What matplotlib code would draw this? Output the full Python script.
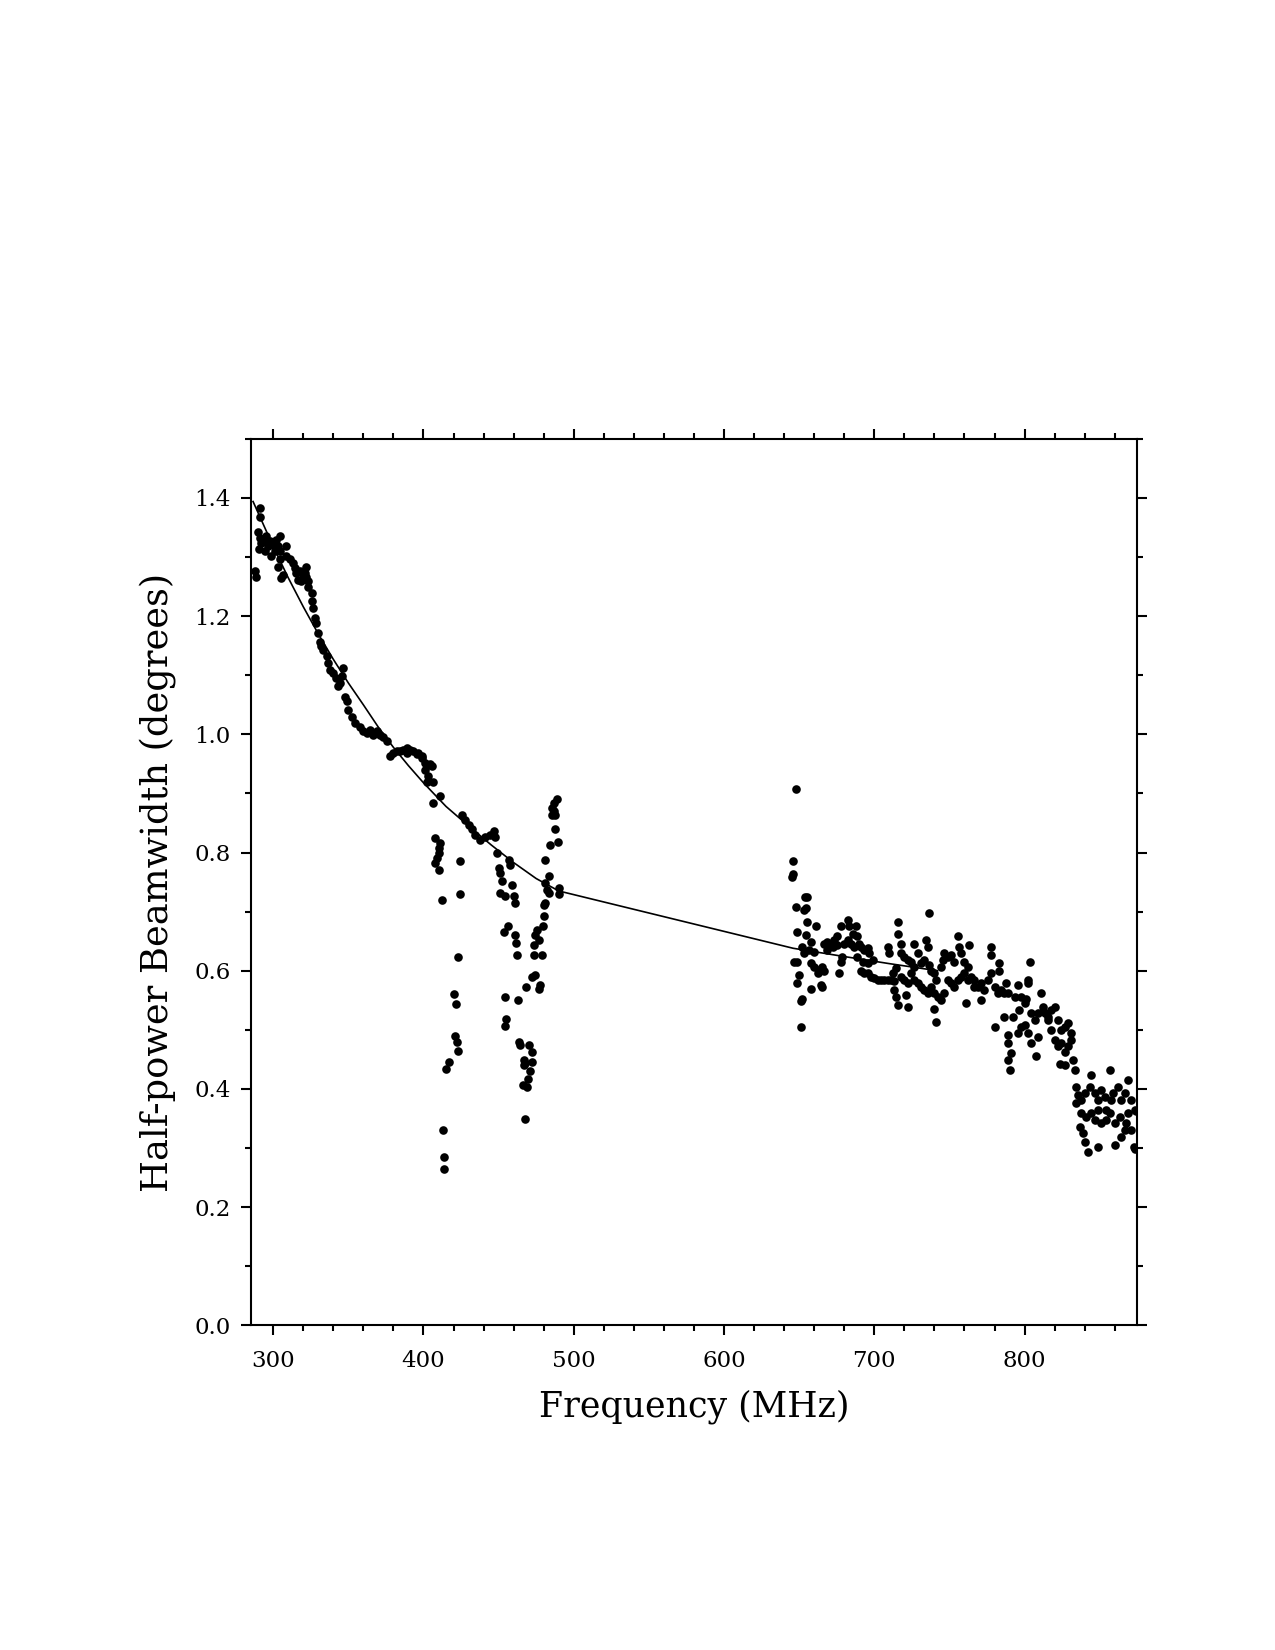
import matplotlib
matplotlib.use("Agg")
import matplotlib.pyplot as plt
from matplotlib.ticker import MultipleLocator

# measured beamwidth points (MHz, degrees)
freq_low = [287.7, 288.4, 291.0, 291.5, 289.9, 291.0, 292.1, 290.6, 293.3, 295.5,
            297.7, 296.6, 294.4, 299.9, 302.1, 304.4, 298.8, 301.0, 303.3, 304.4,
            308.8, 304.4, 303.3, 305.5, 306.6, 308.8, 311.0, 313.3, 314.4, 315.5,
            316.6, 319.9, 317.7, 322.1, 321.0, 318.8, 323.3, 322.1, 323.3, 325.5,
            325.5, 326.6, 327.7, 328.8, 329.9, 331.0, 332.1, 333.2, 335.5, 336.6,
            337.7, 339.9, 342.1, 344.4, 346.6, 345.5, 343.2, 347.7, 348.8, 349.9,
            352.1, 354.4, 357.7, 359.9, 362.1, 364.4, 366.6, 368.8, 371.0, 373.2,
            375.5, 377.7, 379.9, 382.1, 384.4, 386.6, 388.8, 391.0, 393.3, 396.6,
            398.8, 401.0, 403.2, 405.4, 388.8, 395.5, 398.8, 401.1, 404.4, 403.3,
            406.6, 402.2, 406.6, 411.1]
bw_low = [1.276, 1.267, 1.383, 1.368, 1.343, 1.332, 1.324, 1.313, 1.329, 1.335,
          1.327, 1.318, 1.310, 1.321, 1.329, 1.335, 1.301, 1.310, 1.318, 1.310,
          1.318, 1.296, 1.284, 1.265, 1.270, 1.301, 1.296, 1.290, 1.281, 1.273,
          1.262, 1.267, 1.276, 1.284, 1.273, 1.259, 1.259, 1.267, 1.250, 1.239,
          1.225, 1.214, 1.197, 1.188, 1.171, 1.157, 1.149, 1.143, 1.132, 1.121,
          1.109, 1.104, 1.095, 1.087, 1.112, 1.098, 1.081, 1.064, 1.056, 1.042,
          1.030, 1.019, 1.013, 1.005, 1.002, 1.008, 0.999, 1.005, 0.999, 0.996,
          0.988, 0.963, 0.968, 0.971, 0.971, 0.974, 0.977, 0.974, 0.971, 0.968,
          0.963, 0.951, 0.948, 0.946, 0.968, 0.966, 0.960, 0.940, 0.949, 0.929,
          0.920, 0.920, 0.884, 0.895]

freq_mid = [407.7, 411.1, 410.0, 410.0, 409.3, 407.7, 410.0, 412.2, 424.4, 424.0,
            423.3, 420.6, 421.7, 421.1, 422.2, 422.9, 417.3, 414.8, 412.8, 413.9,
            413.5, 425.5, 427.7, 430.0, 432.2, 434.4, 437.7, 441.1, 444.4, 447.7,
            446.6, 448.8, 456.6, 457.7, 450.0, 451.1, 452.2, 458.8, 451.1, 454.4,
            460.0, 461.1, 456.2, 453.3, 461.1, 461.7, 462.2, 454.4, 462.6, 455.1,
            454.0, 463.3, 464.0, 470.0, 472.2, 466.6, 467.7, 472.2, 466.6, 471.1,
            469.5, 466.2, 468.8, 467.7, 488.8, 486.6, 485.5, 486.6, 485.5, 487.7,
            487.7, 484.4, 489.3, 481.1, 483.3, 481.1, 482.2, 483.3, 490.0, 490.0,
            481.1, 480.0, 480.4, 479.5, 475.5, 474.4, 476.6, 473.3, 478.8, 473.3,
            474.4, 472.2, 468.4, 477.7, 476.6]
bw_mid = [0.824, 0.816, 0.807, 0.799, 0.790, 0.782, 0.771, 0.720, 0.785, 0.729,
          0.624, 0.561, 0.544, 0.490, 0.480, 0.464, 0.445, 0.433, 0.330, 0.284,
          0.264, 0.864, 0.855, 0.847, 0.839, 0.830, 0.822, 0.826, 0.830, 0.827,
          0.836, 0.799, 0.788, 0.779, 0.774, 0.765, 0.751, 0.745, 0.731, 0.726,
          0.726, 0.714, 0.675, 0.665, 0.661, 0.647, 0.627, 0.555, 0.550, 0.519,
          0.507, 0.480, 0.475, 0.475, 0.462, 0.449, 0.444, 0.445, 0.441, 0.431,
          0.417, 0.406, 0.404, 0.349, 0.890, 0.884, 0.875, 0.870, 0.864, 0.864,
          0.840, 0.812, 0.817, 0.788, 0.761, 0.748, 0.737, 0.731, 0.740, 0.729,
          0.714, 0.712, 0.693, 0.676, 0.669, 0.661, 0.652, 0.644, 0.627, 0.627,
          0.593, 0.590, 0.572, 0.576, 0.569]

freq_high = [647.7, 646.2, 646.0, 645.5, 655.5, 653.7, 647.7, 654.4, 653.3, 661.1,
             655.5, 648.4, 654.4, 657.7, 646.6, 648.8, 652.2, 653.3, 656.6, 660.0,
             657.7, 660.0, 663.3, 662.2, 665.5, 666.6, 650.0, 648.8, 657.7, 664.4,
             665.5, 652.2, 651.1, 651.1, 676.6, 677.7, 678.8,
             666.6, 668.8, 671.1, 673.3, 675.5, 677.7, 682.2, 683.3, 685.5, 687.7,
             688.8, 690.0, 691.1, 693.3, 695.5, 696.6, 668.8, 672.2, 675.5, 680.0,
             682.2, 684.4, 686.6, 688.8, 692.2, 695.5, 698.8,
             691.1, 693.3, 695.5, 697.7, 700.0, 702.2, 704.4, 706.6, 708.8, 711.1,
             713.3,
             708.8, 710.0, 715.5, 716.0, 717.7, 717.7, 720.0, 722.2, 724.4, 726.6,
             726.6, 728.8, 731.1, 733.3, 734.4, 736.6, 735.5, 736.6, 737.7, 740.0,
             741.1, 744.4, 745.5, 746.6, 748.8, 751.1, 753.3, 755.5, 756.6, 757.7,
             760.0, 762.2, 763.3, 714.4, 712.2, 717.7, 720.0, 722.2, 724.4, 726.6,
             728.8, 731.1, 733.3, 735.5, 737.7, 740.0, 742.2, 744.4, 746.6, 748.8,
             751.1, 753.3, 755.5, 757.7, 760.0, 762.2, 764.4, 766.6, 768.8, 771.1,
             773.3, 775.5, 777.7, 780.0, 782.2, 784.4, 786.6, 713.3, 714.4, 715.5,
             721.1, 722.2, 740.0, 741.1, 761.1, 766.6, 771.1, 777.7, 777.7, 783.3,
             783.3, 787.7, 788.8, 793.3, 795.5, 796.6, 797.7, 800.0, 801.1, 802.2,
             803.3, 802.2, 804.4, 806.6, 808.8, 811.1, 813.3, 815.5, 817.7, 820.0,
             822.2, 824.4, 826.6, 828.8, 831.1, 780.0, 786.6, 792.2, 788.8, 788.8,
             791.1, 788.8, 790.0, 795.5, 797.7, 800.0, 802.2, 804.4, 807.7, 808.8,
             812.2, 815.5, 817.7, 820.0, 822.2, 824.4, 826.6, 823.3, 826.6, 828.8,
             831.1, 832.2, 833.3,
             834.4, 835.5, 837.7, 840.0, 844.4, 843.3, 846.6, 848.8, 851.1, 853.3,
             856.6, 857.7, 858.8, 862.2, 864.4, 866.6, 868.8, 871.1, 873.3, 834.4,
             837.7, 841.1, 844.4, 846.6, 848.8, 851.1, 854.4, 856.6, 860.0, 863.3,
             866.6, 868.8, 871.1, 874.4, 836.6, 838.8, 840.0, 842.2, 848.8, 854.4,
             860.0, 864.4, 867.7, 872.8, 873.3]
bw_high = [0.907, 0.785, 0.763, 0.759, 0.725, 0.724, 0.707, 0.706, 0.702, 0.676,
           0.683, 0.666, 0.661, 0.649, 0.615, 0.615, 0.641, 0.630, 0.635, 0.632,
           0.613, 0.607, 0.601, 0.596, 0.607, 0.599, 0.593, 0.580, 0.569, 0.576,
           0.573, 0.553, 0.548, 0.504, 0.596, 0.615, 0.624,
           0.646, 0.649, 0.646, 0.652, 0.658, 0.675, 0.686, 0.675, 0.663, 0.675,
           0.658, 0.646, 0.641, 0.635, 0.638, 0.630, 0.635, 0.641, 0.644, 0.646,
           0.652, 0.646, 0.641, 0.624, 0.615, 0.613, 0.618,
           0.599, 0.596, 0.596, 0.590, 0.587, 0.584, 0.584, 0.584, 0.585, 0.584,
           0.582,
           0.641, 0.630, 0.683, 0.663, 0.646, 0.630, 0.624, 0.618, 0.615, 0.646,
           0.607, 0.630, 0.613, 0.618, 0.652, 0.697, 0.641, 0.610, 0.599, 0.596,
           0.584, 0.607, 0.618, 0.630, 0.624, 0.627, 0.615, 0.658, 0.641, 0.630,
           0.615, 0.607, 0.644, 0.604, 0.596, 0.590, 0.584, 0.579, 0.596, 0.584,
           0.579, 0.573, 0.567, 0.562, 0.573, 0.562, 0.556, 0.551, 0.562, 0.584,
           0.579, 0.573, 0.584, 0.590, 0.596, 0.584, 0.590, 0.584, 0.573, 0.579,
           0.567, 0.584, 0.596, 0.573, 0.562, 0.567, 0.562, 0.567, 0.556, 0.542,
           0.559, 0.539, 0.536, 0.514, 0.545, 0.573, 0.550, 0.641, 0.627, 0.613,
           0.599, 0.579, 0.562, 0.556, 0.576, 0.534, 0.556, 0.545, 0.553, 0.584,
           0.615, 0.579, 0.528, 0.517, 0.528, 0.562, 0.528, 0.522, 0.534, 0.539,
           0.517, 0.500, 0.505, 0.511, 0.494, 0.505, 0.522, 0.522, 0.491, 0.477,
           0.460, 0.449, 0.432, 0.494, 0.505, 0.508, 0.494, 0.477, 0.455, 0.488,
           0.539, 0.517, 0.500, 0.483, 0.472, 0.477, 0.463, 0.443, 0.441, 0.472,
           0.483, 0.449, 0.432,
           0.404, 0.390, 0.381, 0.393, 0.424, 0.404, 0.393, 0.381, 0.398, 0.387,
           0.432, 0.381, 0.393, 0.404, 0.381, 0.393, 0.415, 0.381, 0.364, 0.376,
           0.359, 0.353, 0.359, 0.347, 0.364, 0.342, 0.347, 0.359, 0.342, 0.353,
           0.330, 0.359, 0.330, 0.362, 0.336, 0.325, 0.311, 0.294, 0.302, 0.364,
           0.305, 0.319, 0.342, 0.302, 0.299]

# fitted curve
fit_freq = [286.6, 300, 310, 320, 330, 340, 350, 360, 370, 380, 390, 400,
            415, 430, 445, 460, 475, 490, 646, 680, 710, 742]
fit_bw = [1.394, 1.318, 1.265, 1.216, 1.170, 1.127, 1.087, 1.050, 1.012, 0.978,
          0.947, 0.918, 0.878, 0.845, 0.813, 0.783, 0.756, 0.735, 0.638, 0.624,
          0.612, 0.600]

plt.rcParams['font.family'] = 'DejaVu Serif'

fig = plt.figure(figsize=(12.75, 16.5), dpi=100)
ax = fig.add_axes([0.1966, 0.1968, 0.6954, 0.5372])

ax.plot(fit_freq, fit_bw, color='black', lw=1.2, zorder=2)
for f, b in [(freq_low, bw_low), (freq_mid, bw_mid), (freq_high, bw_high)]:
    ax.plot(f, b, 'o', color='black', markersize=6.2, markeredgewidth=0, zorder=3)

ax.set_xlim(285, 875)
ax.set_ylim(0, 1.5)
ax.xaxis.set_major_locator(MultipleLocator(100))
ax.xaxis.set_minor_locator(MultipleLocator(20))
ax.yaxis.set_major_locator(MultipleLocator(0.2))
ax.yaxis.set_minor_locator(MultipleLocator(0.1))
ax.yaxis.set_major_formatter(plt.FormatStrFormatter('%.1f'))

for s in ax.spines.values():
    s.set_linewidth(1.5)
ax.tick_params(which='both', direction='out', top=True, right=True, width=1.5,
               labelsize=16.5)
ax.tick_params(which='major', length=7.5)
ax.tick_params(axis='x', which='major', pad=10)
ax.tick_params(axis='y', which='major', pad=7)
ax.tick_params(which='minor', length=4)

ax.set_xlabel('Frequency (MHz)', fontsize=25, labelpad=13)
ax.set_ylabel('Half-power Beamwidth (degrees)', fontsize=26.5, labelpad=13)

fig.savefig('out.png', dpi=100)
